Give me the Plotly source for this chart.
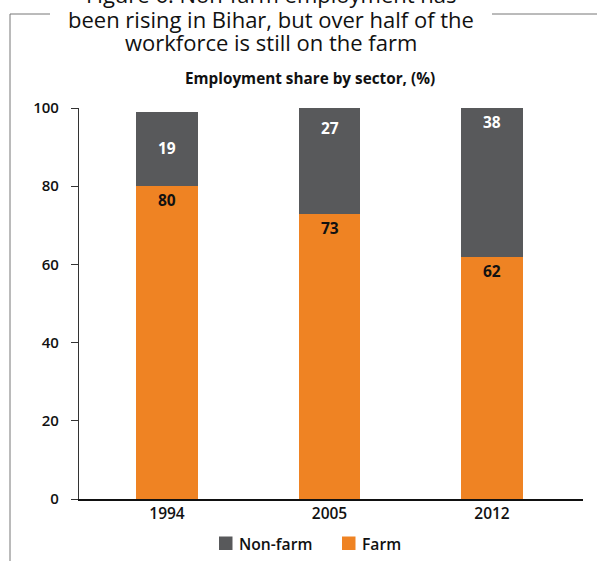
import plotly.graph_objects as go

years = ["1994", "2005", "2012"]
farm = [80, 73, 62]
non_farm = [19, 27, 38]
y_ticks = [0, 20, 40, 60, 80, 100]
title_lines = [
    "Figure 6: Non-farm employment has",
    "been rising in Bihar, but over half of the",
    "workforce is still on the farm",
]
subtitle = "Employment share by sector, (%)"

ORANGE = "#EF8323"
GRAY = "#58595B"
TXT = "#111111"

W, H = 597, 561
ML, MR, MT, MB = 79, 14, 108, 62
PW, PH = W - ML - MR, H - MT - MB


def px(xp):
    return (xp - ML) / PW


def py(yp):
    return (H - MB - yp) / PH


fig = go.Figure()
fig.add_trace(go.Bar(
    x=years, y=farm, name="Farm", marker=dict(color=ORANGE, line=dict(width=0)),
    width=0.38, hoverinfo="skip", showlegend=False,
))
fig.add_trace(go.Bar(
    x=years, y=non_farm, name="Non-farm", marker=dict(color=GRAY, line=dict(width=0)),
    width=0.38, hoverinfo="skip", showlegend=False,
))

annotations = []
label_font = dict(family="Open Sans", size=15.5, weight="bold")
# farm labels near top of orange segment
for i, f in enumerate(farm):
    annotations.append(dict(x=i, y=f, xref="x", yref="y", text=str(f), showarrow=False,
                            yanchor="middle", yshift=-14,
                            font=dict(label_font, color=TXT)))
# non-farm labels
nf_shift = [-36, -20, -14]
for i, (f, n, s) in enumerate(zip(farm, non_farm, nf_shift)):
    annotations.append(dict(x=i, y=f + n, xref="x", yref="y", text=str(n), showarrow=False,
                            yanchor="middle", yshift=s,
                            font=dict(label_font, color="white")))

# title lines (first line clipped by top of page)
for line, yc in zip(title_lines, [-6, 18.5, 42.5]):
    annotations.append(dict(
        x=px(271), y=py(yc), xref="paper", yref="paper", xanchor="center", yanchor="middle",
        text=line, showarrow=False,
        font=dict(family="Open Sans", size=22, color=TXT),
    ))
# subtitle
annotations.append(dict(
    x=px(310), y=py(78), xref="paper", yref="paper", xanchor="center", yanchor="middle",
    text=subtitle, showarrow=False,
    font=dict(family="Open Sans", size=15.3, color=TXT, weight="bold"),
))

# custom legend
legend_items = [("Non-farm", GRAY, 219), ("Farm", ORANGE, 342)]
shapes = []
for name, col, x0 in legend_items:
    shapes.append(dict(type="rect", xref="paper", yref="paper",
                       x0=px(x0), x1=px(x0 + 13.5), y0=py(550), y1=py(536.5),
                       fillcolor=col, line=dict(width=0)))
    annotations.append(dict(x=px(x0 + 17.5), y=py(543.5), xref="paper", yref="paper",
                            xanchor="left", yanchor="middle", text=name, showarrow=False,
                            font=dict(family="Open Sans", size=15.7, color=TXT, weight=600)))

line_style = dict(color="#777", width=1)
shapes += [
    dict(type="line", xref="paper", yref="paper", x0=px(10), x1=px(10), y0=py(14), y1=py(H + 5), line=line_style),
    dict(type="line", xref="paper", yref="paper", x0=px(10), x1=px(50), y0=py(14), y1=py(14), line=line_style),
    dict(type="line", xref="paper", yref="paper", x0=px(492), x1=px(W + 5), y0=py(14), y1=py(14), line=line_style),
]

fig.update_layout(
    width=W, height=H,
    margin=dict(l=ML, r=MR, t=MT, b=MB, autoexpand=False),
    barmode="stack",
    paper_bgcolor="white", plot_bgcolor="white",
    showlegend=False,
    annotations=annotations,
    shapes=shapes,
    xaxis=dict(
        type="category", range=[-0.5415, 2.56], showgrid=False, zeroline=False,
        showline=True, linecolor="#111", linewidth=1.5, ticks="",
        tickfont=dict(family="Open Sans", size=15.5, color=TXT, weight=600),
        fixedrange=True,
    ),
    yaxis=dict(
        range=[0, 100], tickvals=y_ticks, ticktext=[str(v) for v in y_ticks],
        showgrid=False, zeroline=False, showline=True, linecolor="#333", linewidth=1.2,
        ticks="outside", ticklen=7, tickcolor="#333", tickwidth=1.2, ticklabelstandoff=9,
        tickfont=dict(family="Open Sans", size=15, color=TXT, weight=600),
        fixedrange=True,
    ),
)

fig.write_html("out.html", post_script="document.body.style.margin='0px';",
               config={"displayModeBar": False})
